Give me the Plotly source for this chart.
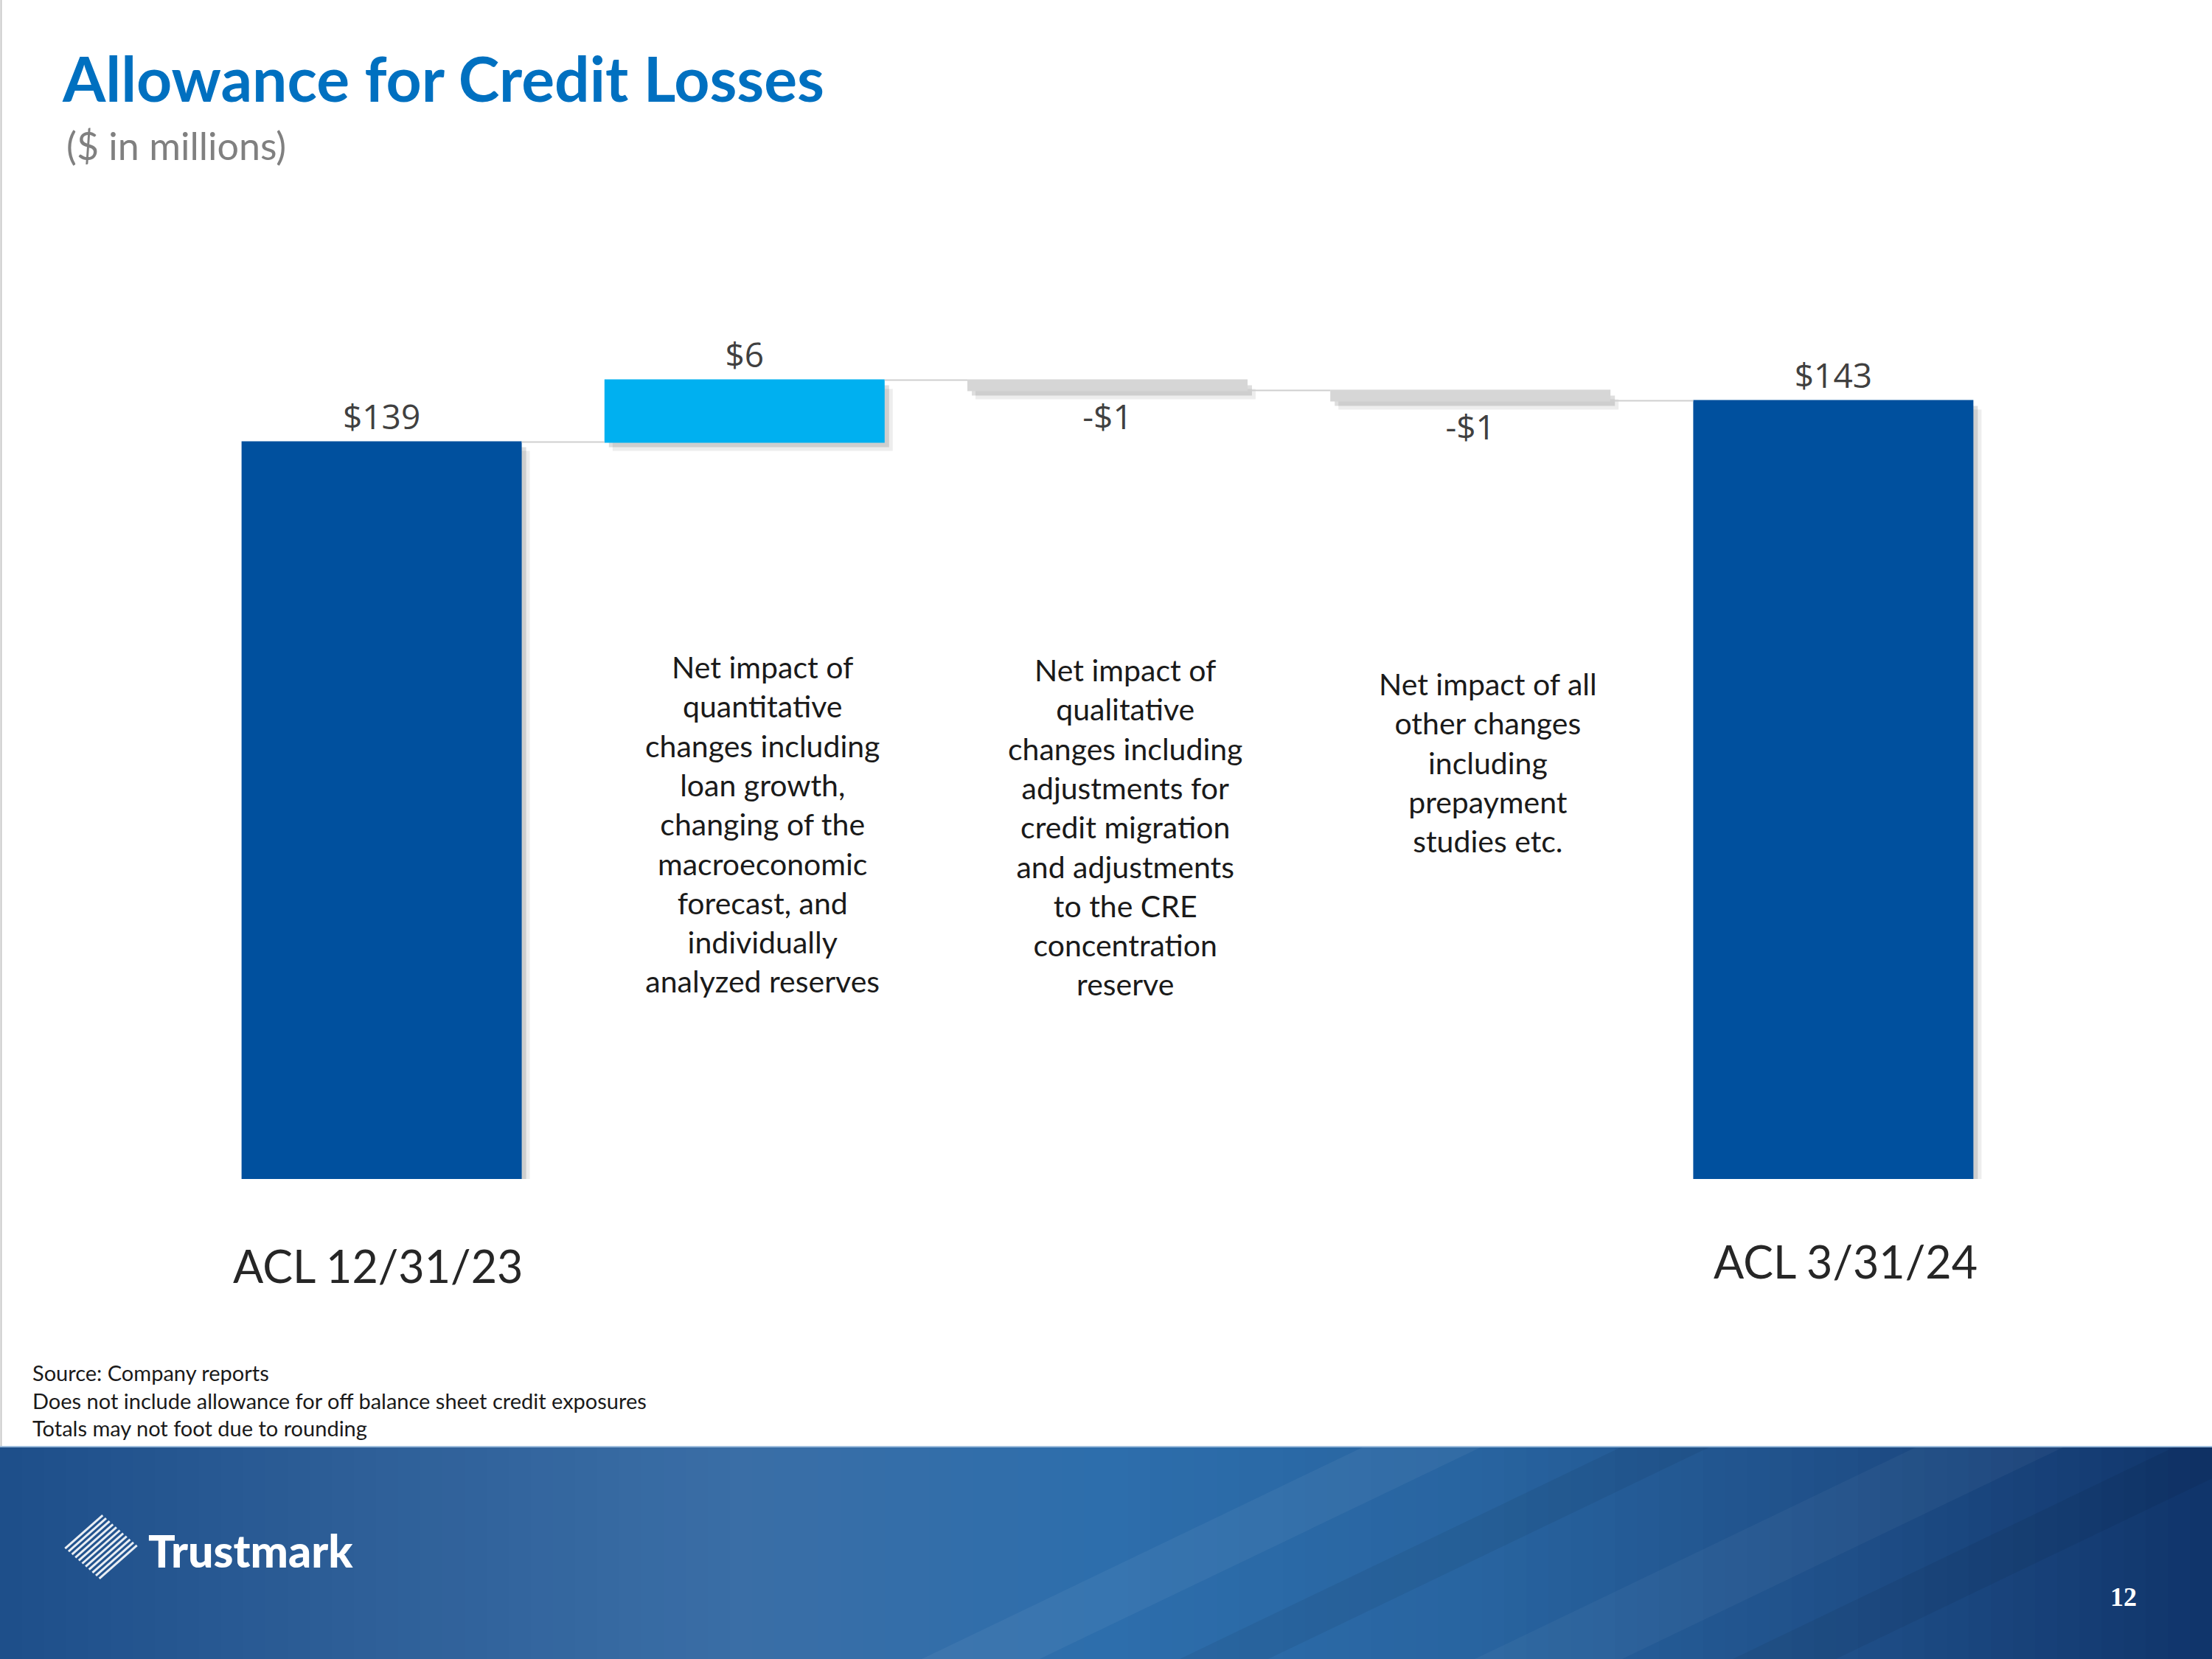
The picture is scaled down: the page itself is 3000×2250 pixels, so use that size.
import plotly.graph_objects as go

# ---------------- data ----------------
categories = ["ACL 12/31/23", "Quantitative changes", "Qualitative changes",
              "Other changes", "ACL 3/31/24"]
measures = ["absolute", "relative", "relative", "relative", "total"]
values = [139, 6, -1, -1, 143]
value_labels = [("-$" if v < 0 else "$") + str(abs(v)) for v in values]
axis_labels = ["ACL 12/31/23", "", "", "", "ACL 3/31/24"]
descriptions = [
    "",
    "Net impact of<br>quantitative<br>changes including<br>loan growth,<br>changing of the<br>"
    "macroeconomic<br>forecast, and<br>individually<br>analyzed reserves",
    "Net impact of<br>qualitative<br>changes including<br>adjustments for<br>credit migration<br>"
    "and adjustments<br>to the CRE<br>concentration<br>reserve",
    "Net impact of all<br>other changes<br>including<br>prepayment<br>studies etc.",
    "",
]
title_text = "Allowance for Credit Losses"
subtitle_text = "($ in millions)"
footnotes = ["Source: Company reports",
             "Does not include allowance for off balance sheet credit exposures",
             "Totals may not foot due to rounding"]
page_number = "12"
brand = "Trustmark"

# ---------------- geometry helpers ----------------
W, H = 3000, 2250
def px(x):
    return x / W
def py(y):
    return 1 - y / H

Y_MIN = 67.6
PX_PER_UNIT = 14.0
PLOT_BOTTOM, PLOT_TOP = 1599, 400
Y_MAX = Y_MIN + (PLOT_BOTTOM - PLOT_TOP) / PX_PER_UNIT
X_LEFT, X_RIGHT = 271.5, 2732.5
X_PX_PER_CAT = (X_RIGHT - X_LEFT) / 5
BW = 0.772

BLUE = "#00509E"
LIGHT = "#00B0F0"
GREY = "#D6D6D6"

fig = go.Figure()

# soft drop shadows (same waterfall, shifted down/right)
for dxp, dyp, alpha in [(11, 12, 0.07), (6, 7, 0.13)]:
    sc = f"rgba(0,0,0,{alpha})"
    fig.add_trace(go.Waterfall(
        x=categories,
        y=values,
        measure=measures,
        base=-dyp / PX_PER_UNIT,
        width=BW,
        offset=-BW / 2 + dxp / X_PX_PER_CAT,
        increasing=dict(marker=dict(color=sc)),
        decreasing=dict(marker=dict(color=sc)),
        totals=dict(marker=dict(color=sc)),
        connector=dict(visible=False),
        textinfo="none",
        hoverinfo="skip",
        showlegend=False,
    ))

fig.add_trace(go.Waterfall(
    x=categories,
    y=values,
    measure=measures,
    text=value_labels,
    textinfo="text",
    textposition="outside",
    textfont=dict(family="Open Sans", size=46, color="#404040"),
    width=BW,
    offset=-BW / 2,
    increasing=dict(marker=dict(color=LIGHT)),
    decreasing=dict(marker=dict(color=GREY)),
    totals=dict(marker=dict(color=BLUE)),
    connector=dict(line=dict(color="#CFCFCF", width=2), mode="between"),
    hoverinfo="skip",
    cliponaxis=False,
    showlegend=False,
))

annotations = []
# category labels
label_pos = {0: (1716, -5), 4: (1710, 17)}
for i, lab in enumerate(axis_labels):
    if lab:
        yy, xs = label_pos[i]
        annotations.append(dict(
            x=i, xref="x", xshift=xs, y=py(yy), yref="paper",
            text=lab, showarrow=False, xanchor="center", yanchor="middle",
            font=dict(family="Lato", size=61, color="#262626")))

# descriptions
desc_top = {1: 878, 2: 882, 3: 901}
for i, d in enumerate(descriptions):
    if d:
        annotations.append(dict(
            x=i, xref="x", xshift=24, y=py(desc_top[i]), yref="paper",
            text=d, showarrow=False, xanchor="center", yanchor="top",
            align="center",
            font=dict(family="Lato", size=41, color="#1a1a1a")))

# title & subtitle
annotations.append(dict(x=px(82), y=py(106), xref="paper", yref="paper",
                        text=title_text, showarrow=False, xanchor="left", yanchor="middle",
                        font=dict(family="Lato", size=84, color="#0070C0", weight=700)))
annotations.append(dict(x=px(88), y=py(197), xref="paper", yref="paper",
                        text=subtitle_text, showarrow=False, xanchor="left", yanchor="middle",
                        font=dict(family="Lato", size=52, color="#808080")))

# footnotes
annotations.append(dict(x=px(42), y=py(1842), xref="paper", yref="paper",
                        text="<br>".join(footnotes), showarrow=False,
                        xanchor="left", yanchor="top", align="left",
                        font=dict(family="Lato", size=29, color="#1a1a1a")))

# footer brand & page number
annotations.append(dict(x=px(199), y=py(2102), xref="paper", yref="paper",
                        text=brand, showarrow=False, xanchor="left", yanchor="middle",
                        font=dict(family="Lato", size=61, color="white", weight=900)))
annotations.append(dict(x=px(2880), y=py(2166), xref="paper", yref="paper",
                        text=page_number, showarrow=False, xanchor="center", yanchor="middle",
                        font=dict(family="Liberation Serif", size=36, color="white", weight=700)))

# ---------------- decorative shapes ----------------
shapes = []
# left border
shapes.append(dict(type="line", xref="paper", yref="paper", x0=px(1.5), x1=px(1.5),
                   y0=py(0), y1=py(1962), line=dict(color="#C8C8C8", width=2)))

# footer gradient
stops = [(0, (30, 79, 138)), (500, (46, 95, 152)), (1000, (58, 110, 166)),
         (1500, (45, 110, 172)), (2000, (40, 100, 160)), (2500, (31, 79, 136)),
         (3000, (16, 52, 106))]
def color_at(x):
    for (x0, c0), (x1, c1) in zip(stops[:-1], stops[1:]):
        if x0 <= x <= x1:
            t = (x - x0) / (x1 - x0)
            return "rgb(%d,%d,%d)" % tuple(round(a + (b - a) * t) for a, b in zip(c0, c1))
    return "rgb(%d,%d,%d)" % stops[-1][1]

STRIP = 30
for k in range(0, W, STRIP):
    shapes.append(dict(type="rect", xref="paper", yref="paper",
                       x0=px(k), x1=px(min(k + STRIP + 1, W)), y0=py(1962), y1=py(H),
                       fillcolor=color_at(k + STRIP / 2), line=dict(width=0), layer="below"))
# diagonal bands
for (xb, xt, wband, col) in [(1250, 1850, 160, "rgba(255,255,255,0.05)"),
                             (1600, 2200, 120, "rgba(0,0,0,0.06)"),
                             (2000, 2600, 200, "rgba(255,255,255,0.04)"),
                             (2350, 2950, 140, "rgba(0,0,0,0.06)")]:
    path = "M %f %f L %f %f L %f %f L %f %f Z" % (
        px(xb), py(H), px(xt), py(1962), px(xt + wband), py(1962), px(xb + wband), py(H))
    shapes.append(dict(type="path", xref="paper", yref="paper", path=path,
                       fillcolor=col, line=dict(width=0), layer="below"))
# top highlight of footer
shapes.append(dict(type="line", xref="paper", yref="paper", x0=0, x1=1,
                   y0=py(1962), y1=py(1962), line=dict(color="#9FBEDD", width=2)))

# logo diamond: parallel stripes filling a rhombus
L = (86, 2098); T = (137, 2053); R = (188, 2098); B = (137, 2143)
n = 11
for k in range(n):
    t = (k + 0.5) / n
    sx = L[0] + t * (B[0] - L[0]); sy = L[1] + t * (B[1] - L[1])
    ex = T[0] + t * (R[0] - T[0]); ey = T[1] + t * (R[1] - T[1])
    shapes.append(dict(type="line", xref="paper", yref="paper",
                       x0=px(sx), y0=py(sy), x1=px(ex), y1=py(ey),
                       line=dict(color="rgba(255,255,255,0.9)", width=3)))

fig.update_layout(
    width=W, height=H,
    margin=dict(l=0, r=0, t=0, b=0),
    paper_bgcolor="white", plot_bgcolor="rgba(0,0,0,0)",
    showlegend=False,
    waterfallmode="overlay",
    xaxis=dict(domain=[px(X_LEFT), px(X_RIGHT)], range=[-0.5, 4.5],
               showticklabels=False, showgrid=False, zeroline=False, showline=False,
               fixedrange=True),
    yaxis=dict(domain=[py(PLOT_BOTTOM), py(PLOT_TOP)], range=[Y_MIN, Y_MAX],
               showticklabels=False, showgrid=False, zeroline=False, showline=False,
               fixedrange=True),
    annotations=annotations,
    shapes=shapes,
)

fig.write_html("out.html", config={"displayModeBar": False},
               post_script="document.body.style.margin='0';")
